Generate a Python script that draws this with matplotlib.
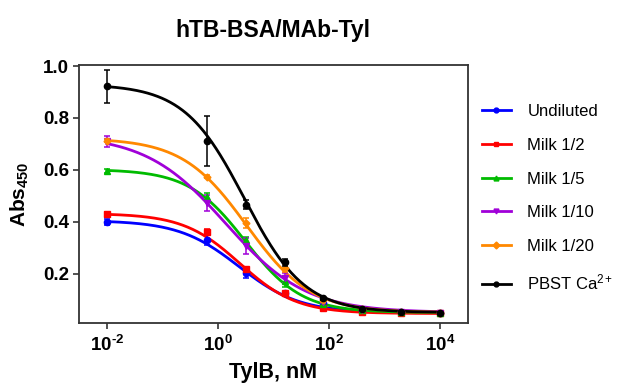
import numpy as np
import matplotlib
matplotlib.use("Agg")
import matplotlib.pyplot as plt
from matplotlib.ticker import FixedLocator, NullLocator

plt.rcParams['font.family'] = ['Liberation Sans', 'DejaVu Sans']
plt.rcParams['mathtext.fontset'] = 'custom'
plt.rcParams['mathtext.rm'] = 'Liberation Sans'
plt.rcParams['mathtext.it'] = 'Liberation Sans'
plt.rcParams['mathtext.bf'] = 'Liberation Sans:bold'

# TylB concentrations (nM); the zero standard is plotted at 0.01
conc = [0.01, 0.64, 3.2, 16, 80, 400, 2000, 10000]

series = ["Undiluted", "Milk 1/2", "Milk 1/5", "Milk 1/10", "Milk 1/20", "PBST Ca$^{2+}$"]
colors = ["#0000ff", "#ff0000", "#00bb00", "#a000d8", "#ff8800", "#000000"]
markers = ["o", "s", "^", "v", "D", "o"]

# mean absorbance at 450 nm
abs_undiluted = [0.400, 0.331, 0.204, 0.124, 0.085, 0.055, 0.052, 0.050]
abs_milk_2 = [0.428, 0.360, 0.217, 0.124, 0.068, 0.053, 0.050, 0.048]
abs_milk_5 = [0.596, 0.495, 0.328, 0.170, 0.082, 0.058, 0.052, 0.050]
abs_milk_10 = [0.710, 0.472, 0.307, 0.182, 0.092, 0.060, 0.052, 0.050]
abs_milk_20 = [0.712, 0.574, 0.395, 0.221, 0.097, 0.062, 0.052, 0.050]
abs_pbst = [0.922, 0.712, 0.465, 0.243, 0.105, 0.062, 0.052, 0.048]

# standard deviations
sd_undiluted = [0.012, 0.020, 0.020, 0.006, 0.005, 0.004, 0.003, 0.003]
sd_milk_2 = [0.010, 0.012, 0.008, 0.005, 0.004, 0.003, 0.003, 0.003]
sd_milk_5 = [0.008, 0.015, 0.012, 0.020, 0.005, 0.004, 0.003, 0.003]
sd_milk_10 = [0.020, 0.030, 0.030, 0.020, 0.006, 0.004, 0.003, 0.003]
sd_milk_20 = [0.006, 0.006, 0.020, 0.015, 0.005, 0.004, 0.003, 0.003]
sd_pbst = [0.063, 0.096, 0.017, 0.012, 0.005, 0.004, 0.003, 0.003]

# four-parameter logistic fits: top, bottom, IC50 (nM), Hill slope
fit_top = [0.405, 0.432, 0.602, 0.735, 0.722, 0.930]
fit_bottom = [0.050, 0.046, 0.050, 0.050, 0.050, 0.050]
fit_ic50 = [2.4, 2.5, 3.1, 1.4, 3.3, 3.0]
fit_hill = [0.80, 0.85, 0.85, 0.60, 0.75, 0.80]

x_ticks = [1e-2, 1e0, 1e2, 1e4]
x_tick_labels = ["$\\mathbf{10^{\u20102}}$", "$\\mathbf{10^{0}}$",
                 "$\\mathbf{10^{2}}$", "$\\mathbf{10^{4}}$"]
y_ticks = [0.2, 0.4, 0.6, 0.8, 1.0]
y_tick_labels = ["0.2", "0.4", "0.6", "0.8", "1.0"]

means = [abs_undiluted, abs_milk_2, abs_milk_5, abs_milk_10, abs_milk_20, abs_pbst]
sds = [sd_undiluted, sd_milk_2, sd_milk_5, sd_milk_10, sd_milk_20, sd_pbst]

fig = plt.figure(figsize=(6.34, 3.85), dpi=100)
ax = fig.add_axes([0.1246, 0.162, 0.6131, 0.669])

xs = np.logspace(-2, 4, 400)
for i in range(len(series)):
    top, bot, ic, h = fit_top[i], fit_bottom[i], fit_ic50[i], fit_hill[i]
    curve = bot + (top - bot) / (1 + (xs / ic) ** h)
    ax.plot(xs, curve, color=colors[i], lw=2.0, zorder=2 + i * 0.1)
    ax.errorbar(conc, means[i], yerr=sds[i], fmt=markers[i], color=colors[i],
                ms=4.5 if markers[i] != "D" else 3.5, elinewidth=1.1, capsize=2.5,
                capthick=1.1, zorder=3 + i * 0.1)
    # legend proxy
    ax.plot([], [], color=colors[i], lw=2.0, marker=markers[i], ms=3.5, label=series[i])

ax.set_xscale("log")
ax.set_xlim(10 ** -2.5, 10 ** 4.5)
ax.set_ylim(0.011, 1.004)
ax.xaxis.set_major_locator(FixedLocator(x_ticks))
ax.xaxis.set_minor_locator(NullLocator())
ax.set_xticklabels(x_tick_labels)
ax.set_yticks(y_ticks)
ax.set_yticklabels(y_tick_labels)

for s in ax.spines.values():
    s.set_color("#333333")
    s.set_linewidth(1.3)
ax.tick_params(direction="out", length=4, width=1.2, color="#333333",
               labelsize=13.5)
ax.tick_params(axis="x", pad=5)
ax.tick_params(axis="y", pad=3)
for lab in ax.get_xticklabels() + ax.get_yticklabels():
    lab.set_fontweight("bold")

ax.set_xlabel("TylB, nM", fontsize=15.5, fontweight="bold", labelpad=5)
ax.set_ylabel("$\\mathbf{Abs_{450}}$", fontsize=15, labelpad=9)
ax.set_title("hTB-BSA/MAb-Tyl", fontsize=16.5, fontweight="bold", pad=20)

handles, labels = ax.get_legend_handles_labels()
fig.legend(handles, labels, loc="upper left", bbox_to_anchor=(0.737, 0.768),
           frameon=False, fontsize=12, handlelength=1.7, handletextpad=1.0,
           labelspacing=1.12)

fig.savefig("out.png", dpi=100)
